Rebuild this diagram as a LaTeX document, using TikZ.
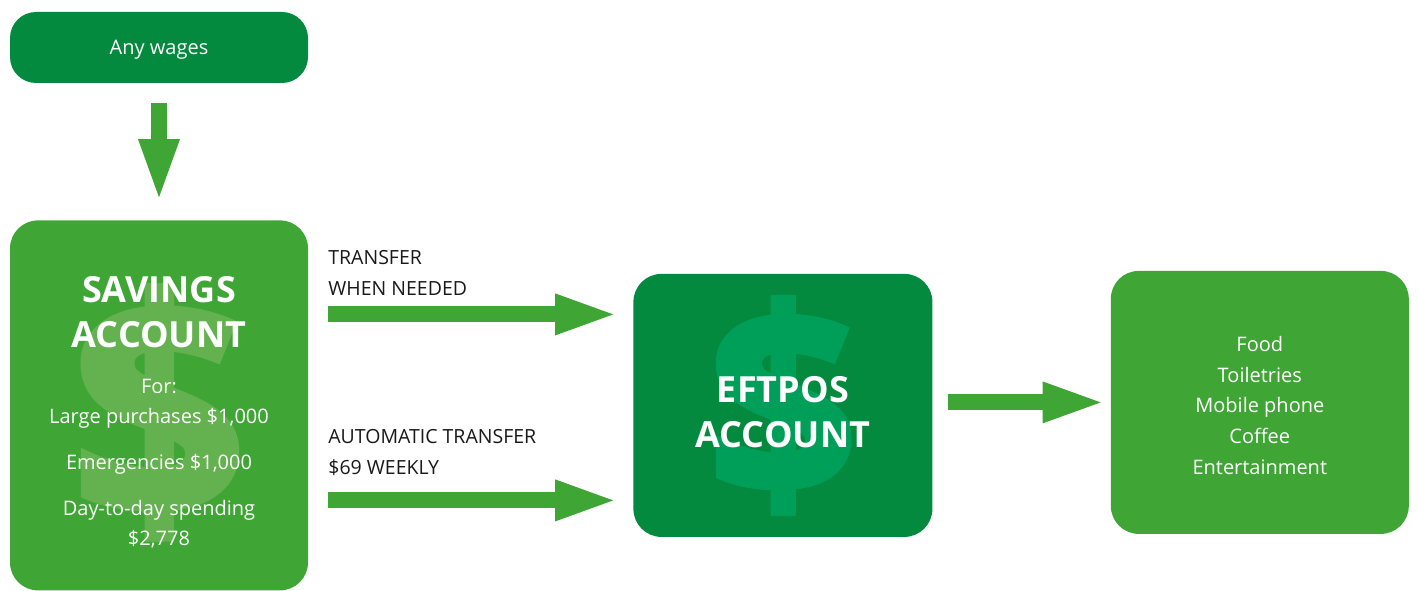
\documentclass[tikz,border=0pt]{standalone}
\usepackage{fontspec}
\setmainfont{Open Sans}
\newfontfamily\dollarfont{Open Sans}[BoldFeatures={FakeBold=3}]
\usetikzlibrary{positioning,arrows.meta}
\definecolor{darkgreen}{RGB}{3,138,62}
\definecolor{leafgreen}{RGB}{63,165,53}
\definecolor{paledollar}{RGB}{100,177,80}
\definecolor{mintdollar}{RGB}{0,159,89}
\definecolor{fontblack}{RGB}{25,25,25}

\begin{document}
\begin{tikzpicture}[x=1pt, y=-1pt, node distance=137pt and 325pt,
	box/.style={rectangle, rounded corners=28pt, inner sep=0pt, minimum width=298pt},
	wagebox/.style={box, rounded corners=26pt, fill=darkgreen, minimum height=71pt, text depth=0pt, text=white, font=\fontsize{20}{24}\selectfont},
	savebox/.style={box, fill=leafgreen, minimum height=370pt},
	eftbox/.style={box, fill=darkgreen, minimum width=299pt, minimum height=263pt},
	spendbox/.style={box, fill=leafgreen, minimum height=263pt},
	dollar/.style={inner sep=0pt, font=\dollarfont\bfseries\fontsize{#1}{#1}\selectfont},
	heading/.style={inner sep=0pt, align=center, text=white, font=\bfseries\fontsize{36}{45}\selectfont},
	bodytext/.style={inner sep=0pt, align=center, text=white, font=\fontsize{20}{30}\selectfont},
	flowlabel/.style={inner sep=0pt, align=left, anchor=south west, text=fontblack, font=\fontsize{19.5}{31}\selectfont},
	blockarrow/.style={line width=16pt, color=leafgreen, -{Triangle[length=58pt,width=42pt,line width=0pt]}}
	]
	\useasboundingbox (0,0) rectangle (1419,591);
	
	\node[wagebox] (wages) at (159,47.5) {Any wages};
	\node[savebox, below=of wages] (savings) {};
	\node[eftbox, right=of savings] (eftpos) {};
	\node[spendbox, right=178pt of eftpos, yshift=3pt] (spend) {};
	
	% faint dollar signs behind the text
	\node[dollar=305, text=paledollar, yshift=-7pt] (savedollar) at (savings.center) {\$};
	\node[dollar=261, text=mintdollar] (eftdollar) at (eftpos.center) {\$};
	
	\node[heading] (savehead) at ([yshift=-92pt]savings.north) {SAVINGS\\ACCOUNT};
	\node[bodytext] (savefor) at ([yshift=-58pt]savings.center) {For:\\Large purchases \$1,000\\[16pt]Emergencies \$1,000\\[16pt]Day-to-day spending\\\$2,778};
	\node[heading] (efthead) at ([yshift=-7pt]eftpos.center) {EFTPOS\\ACCOUNT};
	\node[bodytext, font=\fontsize{20}{30.7}\selectfont] (spendlist) at ([yshift=-3pt]spend.center) {Food\\Toiletries\\Mobile phone\\Coffee\\Entertainment};
	
	\coordinate (needstart) at ([yshift=91pt]savings.east);
	\coordinate (autostart) at ([yshift=-95pt]savings.east);
	\draw[blockarrow, shorten <=20pt, shorten >=23pt] (wages) -- (savings);
	\draw[blockarrow, shorten <=20pt, shorten >=20pt] (needstart) -- (needstart -| eftpos.west);
	\draw[blockarrow, shorten <=20pt, shorten >=20pt] (autostart) -- (autostart -| eftpos.west);
	\draw[blockarrow, shorten <=15pt, shorten >=10pt] (eftpos.east |- spend.west) -- (spend.west);
	
	\node[flowlabel, above right=19pt and 20pt of needstart] (needlabel) {TRANSFER\\WHEN NEEDED};
	\node[flowlabel, above right=25pt and 20pt of autostart] (autolabel) {AUTOMATIC TRANSFER\\\$69 WEEKLY};
\end{tikzpicture}
\end{document}
